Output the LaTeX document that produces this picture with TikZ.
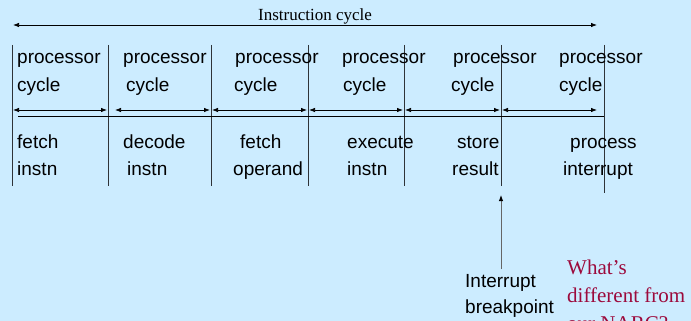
\documentclass[tikz,border=0pt]{standalone}
\usepackage{fontspec}
\setmainfont{Liberation Serif}
\setsansfont{Liberation Sans}
\usetikzlibrary{arrows.meta}
\definecolor{cycBack}{HTML}{CCECFF}
\definecolor{cycLine}{HTML}{2E3338}
\definecolor{cycNote}{HTML}{9C0A3C}
\tikzset{
  cyclefig/.style={x=1pt, y=-1pt, >={Latex[length=6pt,width=4.5pt]}},
  phaselabel/.style={font=\sffamily\fontsize{19}{19}\selectfont, anchor=base west, inner sep=0pt},
  titlelabel/.style={font=\rmfamily\fontsize{17}{17}\selectfont, anchor=base, inner sep=0pt},
  notelabel/.style={font=\rmfamily\fontsize{21}{21}\selectfont, text=cycNote, anchor=base west, inner sep=0pt},
  divider/.style={draw=cycLine, line width=0.85pt},
  span/.style={draw=black, line width=0.75pt, <->},
  baseline rule/.style={draw=black, line width=0.75pt},
  % Pfeil zum Unterbrechungspunkt, Schaft etwas heller.
  breakarrow/.style={draw=black!60, line width=0.9pt, ->, >={Latex[length=6pt,width=4.5pt,black]}},
}
\begin{document}
\begin{tikzpicture}[cyclefig]
  \useasboundingbox[fill=cycBack] (0,0) rectangle (691,321);
  \clip (0,0) rectangle (691,321);
  % Befehlszyklus oben
  \coordinate (icL) at (13,25);
  \coordinate (icR) at (597,25);
  \draw[span] (icL) -- (icR);
  \node[titlelabel] (ictitle) at (315,21) {Instruction cycle};
  % Trennlinien der Prozessorzyklen
  \foreach \i/\x in {1/12, 2/108, 3/211, 4/308, 5/404, 6/501} {
    \coordinate (top\i) at (\x,45);
    \coordinate (bot\i) at (\x,186);
    \draw[divider] (top\i) -- (bot\i);
  }
  \coordinate (top7) at (604,45);
  \coordinate (bot7) at (604,193);
  \draw[divider] (top7) -- (bot7);
  % Pfeile je Prozessorzyklus
  \foreach \i/\xa/\xb in {1/13/107, 2/115/210, 3/212/307, 4/309/403, 5/405/500, 6/502/597} {
    \coordinate (spA\i) at (\xa,110);
    \coordinate (spB\i) at (\xb,110);
    \draw[span] (spA\i) -- (spB\i);
  }
  \coordinate (ruleL) at (18,116);
  \coordinate (ruleR) at (604,116);
  \draw[baseline rule] (ruleL) -- (ruleR);
  % Beschriftung oben
  \foreach \i/\xa/\xb in {1/17/17, 2/123/126, 3/235/234, 4/342/343, 5/453/451, 6/559/559} {
    \node[phaselabel] (proc\i) at (\xa,64) {processor};
    \node[phaselabel] (cyc\i) at (\xb,92) {cycle};
  }
  % Phasen unten
  \foreach \i/\xa/\ta/\xb/\tb in {1/17/fetch/17/instn, 2/123/decode/127/instn,
      3/240/fetch/233/operand, 4/347/execute/347/instn,
      5/457/store/452/result, 6/570/process/563/interrupt} {
    \node[phaselabel] (phA\i) at (\xa,148) {\ta};
    \node[phaselabel] (phB\i) at (\xb,175) {\tb};
  }
  % Unterbrechungspunkt
  \coordinate (brkfoot) at (501,269);
  \coordinate (brktip) at (501,195);
  \draw[breakarrow] (brkfoot) -- (brktip);
  \node[phaselabel] (intr) at (465,287) {Interrupt};
  \node[phaselabel] (brkp) at (465,313) {breakpoint};
  % Frage an die Leser
  \node[notelabel] (noteA) at (567,274) {What’s};
  \node[notelabel] (noteB) at (567,302) {different from};
  \node[notelabel] (noteC) at (567,330) {our NARC?};
\end{tikzpicture}
\end{document}
